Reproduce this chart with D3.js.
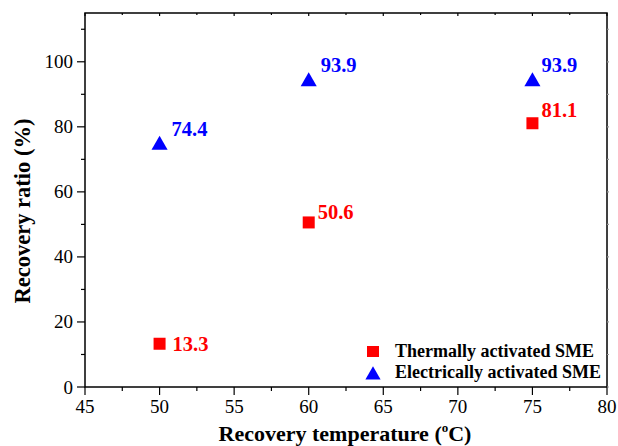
<!DOCTYPE html>
<html>
<head>
<meta charset="utf-8">
<script src="https://cdn.jsdelivr.net/npm/d3@7/dist/d3.min.js"></script>
</head>
<body style="margin:0;background:#fff">
<svg id="chart" width="618" height="446"></svg>
<script>
// Recovery temperature (°C) and recovery ratio (%) for each activation mode
const temperatures = [50, 60, 75];
const thermalRatio = [13.3, 50.6, 81.1];
const electricRatio = [74.4, 93.9, 93.9];
const xTicks = [45, 50, 55, 60, 65, 70, 75, 80];
const yTicks = [0, 20, 40, 60, 80, 100];
// label offsets (px) from each marker
const thermalLabelOffset = [[13, 7], [9, -3], [9, -6]];
const electricLabelOffset = [[12, -9], [12, -10], [9, -10]];

const FONT = "Liberation Serif";
const svg = d3.select("#chart");
const m = { left: 85, right: 10, top: 13, bottom: 59 };
const W = 618, H = 446;
const x = d3.scaleLinear().domain([45, 80]).range([m.left, W - m.right - 1]);
const y = d3.scaleLinear().domain([0, 115]).range([H - m.bottom, m.top]);

const xMinor = d3.range(47.5, 80, 5);
const yMinor = d3.range(10, 115, 20);

// frame
svg.append("rect").attr("x", x(45)).attr("y", y(115))
  .attr("width", x(80) - x(45)).attr("height", y(0) - y(115))
  .attr("fill", "none").attr("stroke", "#000").attr("stroke-width", 1.5);

const tickG = svg.append("g").attr("stroke", "#000").attr("stroke-width", 1.2);
// bottom/left ticks point outward; small mirrored ticks on top/right
xTicks.forEach(v => {
  tickG.append("line").attr("x1", x(v)).attr("x2", x(v)).attr("y1", y(0)).attr("y2", y(0) + 8);
  tickG.append("line").attr("x1", x(v)).attr("x2", x(v)).attr("y1", y(115)).attr("y2", y(115) + 3);
});
xMinor.forEach(v => {
  tickG.append("line").attr("x1", x(v)).attr("x2", x(v)).attr("y1", y(0)).attr("y2", y(0) + 4);
  tickG.append("line").attr("x1", x(v)).attr("x2", x(v)).attr("y1", y(115)).attr("y2", y(115) + 2);
});
yTicks.forEach(v => {
  tickG.append("line").attr("x1", x(45) - 8).attr("x2", x(45)).attr("y1", y(v)).attr("y2", y(v));
  tickG.append("line").attr("x1", x(80)).attr("x2", x(80) + 2).attr("y1", y(v)).attr("y2", y(v)).attr("stroke", "#999");
});
yMinor.forEach(v => {
  tickG.append("line").attr("x1", x(45) - 4).attr("x2", x(45)).attr("y1", y(v)).attr("y2", y(v));
  tickG.append("line").attr("x1", x(80)).attr("x2", x(80) + 2).attr("y1", y(v)).attr("y2", y(v)).attr("stroke", "#999");
});

// tick labels
svg.append("g").selectAll("text").data(xTicks).join("text")
  .attr("x", d => x(d)).attr("y", y(0) + 26)
  .attr("text-anchor", "middle").attr("font-size", 19).text(d => d);
svg.append("g").selectAll("text").data(yTicks).join("text")
  .attr("x", x(45) - 12).attr("y", d => y(d) + 6.5)
  .attr("text-anchor", "end").attr("font-size", 19).text(d => d);

// axis titles
const xt = svg.append("text").attr("x", 345).attr("y", 441)
  .attr("text-anchor", "middle").attr("font-size", 22).attr("font-weight", "bold");
xt.append("tspan").text("Recovery temperature (");
xt.append("tspan").attr("dy", -9).attr("font-size", 13).text("o");
xt.append("tspan").attr("dy", 9).text("C)");

svg.append("text").attr("transform", "translate(30,211) rotate(-90)")
  .attr("text-anchor", "middle").attr("font-size", 22.5).attr("font-weight", "bold")
  .text("Recovery ratio (%)");

// markers
const sq = 12;
const tri = d3.symbol().type(d3.symbolTriangle).size(112);
const thermal = temperatures.map((t, i) => ({ t, v: thermalRatio[i], o: thermalLabelOffset[i] }));
const electric = temperatures.map((t, i) => ({ t, v: electricRatio[i], o: electricLabelOffset[i] }));

svg.append("g").selectAll("rect").data(thermal).join("rect")
  .attr("x", d => x(d.t) - sq / 2).attr("y", d => y(d.v) - sq / 2)
  .attr("width", sq).attr("height", sq).attr("fill", "#ff0000");
svg.append("g").selectAll("path").data(electric).join("path")
  .attr("transform", d => `translate(${x(d.t)},${y(d.v)})`)
  .attr("d", tri).attr("fill", "#0000ff");

// value labels
svg.append("g").selectAll("text").data(thermal).join("text")
  .attr("x", d => x(d.t) + d.o[0]).attr("y", d => y(d.v) + d.o[1])
  .attr("font-size", 20.5).attr("font-weight", "bold").attr("fill", "#ff0000")
  .text(d => d.v.toFixed(1));
svg.append("g").selectAll("text").data(electric).join("text")
  .attr("x", d => x(d.t) + d.o[0]).attr("y", d => y(d.v) + d.o[1])
  .attr("font-size", 20.5).attr("font-weight", "bold").attr("fill", "#0000ff")
  .text(d => d.v.toFixed(1));

// legend
const lg = svg.append("g");
lg.append("rect").attr("x", 367).attr("y", 346).attr("width", 12).attr("height", 11).attr("fill", "#ff0000");
lg.append("path").attr("transform", "translate(373,375)").attr("d", d3.symbol().type(d3.symbolTriangle).size(100)).attr("fill", "#0000ff");
lg.append("text").attr("x", 395).attr("y", 357).attr("font-size", 18).attr("font-weight", "bold").text("Thermally activated SME");
lg.append("text").attr("x", 395).attr("y", 378).attr("font-size", 18).attr("font-weight", "bold").text("Electrically activated SME");

// serif face on every text element
svg.selectAll("text").attr("font-family", FONT).style("font-family", FONT);
</script>
</body>
</html>
